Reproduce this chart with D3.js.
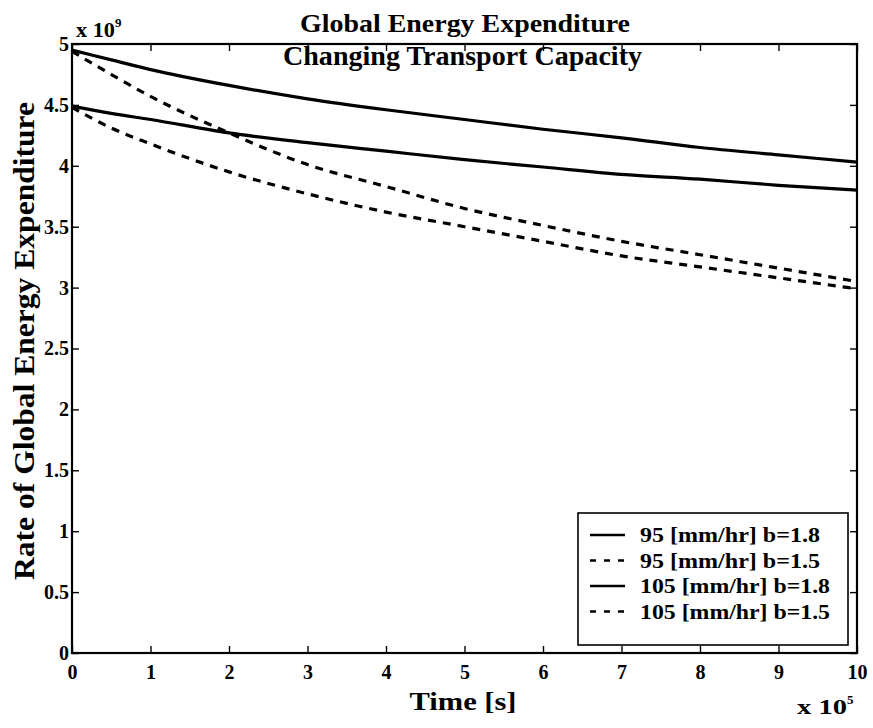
<!DOCTYPE html>
<html>
<head>
<meta charset="utf-8">
<script src="https://cdn.jsdelivr.net/npm/d3@7"></script>
<style>
  html, body { margin: 0; padding: 0; background: #fff; }
  svg { display: block; }
  text { font-family: "Liberation Serif", "Times New Roman", serif; font-weight: bold; fill: #000; }
</style>
</head>
<body>
<svg id="chart" width="873" height="728"></svg>
<script>
// Time samples, in units of 10^5 s
const timeValues = [0, 0.5, 1, 2, 3, 4, 5, 6, 7, 8, 9, 10];

// Rate of global energy expenditure, in units of 10^9
const rate95b18  = [4.49, 4.43, 4.38, 4.27, 4.19, 4.12, 4.05, 3.99, 3.93, 3.89, 3.84, 3.80];
const rate95b15  = [4.48, 4.31, 4.18, 3.95, 3.77, 3.62, 3.50, 3.38, 3.26, 3.17, 3.08, 2.99];
const rate105b18 = [4.95, 4.87, 4.79, 4.66, 4.55, 4.46, 4.38, 4.30, 4.23, 4.15, 4.09, 4.03];
const rate105b15 = [4.94, 4.75, 4.57, 4.27, 4.01, 3.83, 3.65, 3.51, 3.38, 3.27, 3.16, 3.05];

const seriesNames = ["95 [mm/hr] b=1.8", "95 [mm/hr] b=1.5", "105 [mm/hr] b=1.8", "105 [mm/hr] b=1.5"];
const seriesDashed = [false, true, false, true];
const seriesValues = [rate95b18, rate95b15, rate105b18, rate105b15];

const xTicks = [0, 1, 2, 3, 4, 5, 6, 7, 8, 9, 10];
const yTicks = [0, 0.5, 1, 1.5, 2, 2.5, 3, 3.5, 4, 4.5, 5];

const titleLines = ["Global Energy Expenditure", "Changing Transport Capacity"];
const xLabel = "Time [s]";
const yLabel = "Rate of Global Energy Expenditure";

const svg = d3.select("#chart");
const plotLeft = 72, plotRight = 857, plotTop = 44, plotBottom = 653;

const x = d3.scaleLinear().domain([0, 10]).range([plotLeft, plotRight]);
const y = d3.scaleLinear().domain([0, 5]).range([plotBottom, plotTop]);

const tickLen = 7;
const fmt = d => String(d);

// axes with inward ticks on all four sides
const gx = svg.append("g").attr("transform", `translate(0,${plotBottom})`)
  .call(d3.axisBottom(x).tickValues(xTicks).tickFormat(fmt).tickSizeInner(-tickLen).tickSizeOuter(0).tickPadding(12));
const gy = svg.append("g").attr("transform", `translate(${plotLeft},0)`)
  .call(d3.axisLeft(y).tickValues(yTicks).tickFormat(fmt).tickSizeInner(-tickLen).tickSizeOuter(0).tickPadding(3));
const gt = svg.append("g").attr("transform", `translate(0,${plotTop})`)
  .call(d3.axisTop(x).tickValues(xTicks).tickFormat("").tickSizeInner(-tickLen).tickSizeOuter(0));
const gr = svg.append("g").attr("transform", `translate(${plotRight},0)`)
  .call(d3.axisRight(y).tickValues(yTicks).tickFormat("").tickSizeInner(-tickLen).tickSizeOuter(0));

[gx, gy, gt, gr].forEach(g => {
  g.select(".domain").remove();
  g.selectAll(".tick line").attr("stroke", "#000").attr("stroke-width", 1.4);
  g.selectAll(".tick text").attr("font-size", 20).attr("font-family", "Liberation Serif").attr("font-weight", "bold").attr("fill", "#000");
});

// plot frame
svg.append("rect")
  .attr("x", plotLeft).attr("y", plotTop)
  .attr("width", plotRight - plotLeft).attr("height", plotBottom - plotTop)
  .attr("fill", "none").attr("stroke", "#000").attr("stroke-width", 2.2);

// curves
const line = d3.line()
  .x((d, i) => x(timeValues[i]))
  .y(d => y(d))
  .curve(d3.curveMonotoneX);

seriesValues.forEach((vals, k) => {
  svg.append("path")
    .datum(vals)
    .attr("d", line)
    .attr("fill", "none")
    .attr("stroke", "#000")
    .attr("stroke-width", 3.2)
    .attr("stroke-dasharray", seriesDashed[k] ? "8,7" : null);
});

// titles
svg.append("text").attr("x", 465).attr("y", 32)
  .attr("text-anchor", "middle").attr("font-size", 26)
  .attr("textLength", 330).attr("lengthAdjust", "spacingAndGlyphs").text(titleLines[0]);
svg.append("text").attr("x", 462.5).attr("y", 65)
  .attr("text-anchor", "middle").attr("font-size", 27)
  .attr("textLength", 359).attr("lengthAdjust", "spacingAndGlyphs").text(titleLines[1]);

// axis labels
svg.append("text").attr("x", 463).attr("y", 710)
  .attr("text-anchor", "middle").attr("font-size", 26)
  .attr("textLength", 107).attr("lengthAdjust", "spacingAndGlyphs").text(xLabel);
svg.append("text")
  .attr("transform", `translate(34,341) rotate(-90)`)
  .attr("text-anchor", "middle").attr("font-size", 29)
  .attr("textLength", 478).attr("lengthAdjust", "spacingAndGlyphs").text(yLabel);

// exponent markers
const ex9 = svg.append("text").attr("x", 76).attr("y", 37).attr("font-size", 20);
ex9.append("tspan").attr("textLength", 39).attr("lengthAdjust", "spacingAndGlyphs").text("x 10");
ex9.append("tspan").attr("font-size", 13).attr("dy", -10).text("9");

const ex5 = svg.append("text").attr("x", 797).attr("y", 714).attr("font-size", 20);
ex5.append("tspan").attr("textLength", 50).attr("lengthAdjust", "spacingAndGlyphs").text("x 10");
ex5.append("tspan").attr("font-size", 13).attr("dy", -10).text("5");

// legend
const lg = svg.append("g");
const lgX = 578, lgY = 513, lgW = 270, lgH = 132;
const legendTextWidths = [180, 180, 190, 190];
lg.append("rect").attr("x", lgX).attr("y", lgY).attr("width", lgW).attr("height", lgH)
  .attr("fill", "#fff").attr("stroke", "#000").attr("stroke-width", 1.6);
seriesNames.forEach((name, k) => {
  const cy = lgY + 22 + k * 25.5;
  lg.append("line").attr("x1", lgX + 12).attr("x2", lgX + 47).attr("y1", cy).attr("y2", cy)
    .attr("stroke", "#000").attr("stroke-width", 2.5)
    .attr("stroke-dasharray", seriesDashed[k] ? "6,8" : null);
  lg.append("text").attr("x", lgX + 62).attr("y", cy + 7).attr("font-size", 21)
    .attr("textLength", legendTextWidths[k]).attr("lengthAdjust", "spacingAndGlyphs").text(name);
});
</script>
</body>
</html>
